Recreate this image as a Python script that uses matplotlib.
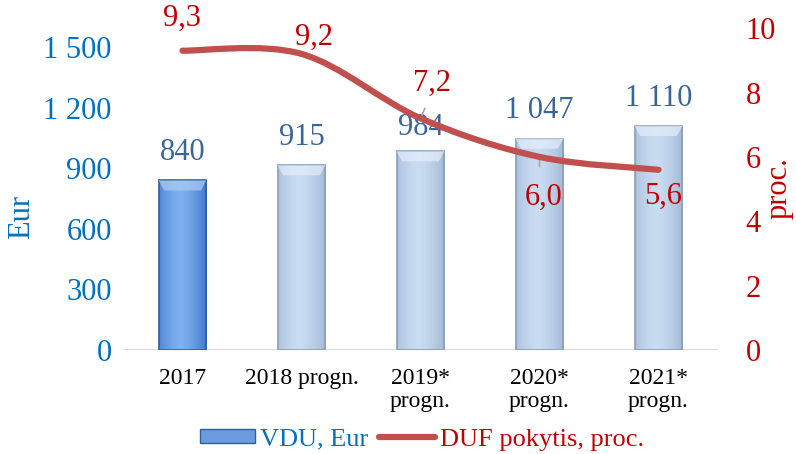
import matplotlib
matplotlib.use("Agg")
import matplotlib.pyplot as plt
import numpy as np
from matplotlib.path import Path
from matplotlib.patches import PathPatch, Rectangle, Polygon, Patch
from matplotlib.lines import Line2D
from matplotlib.colors import to_rgb

# duomenys
kategorijos = ["2017", "2018 progn.", "2019*\nprogn.", "2020*\nprogn.", "2021*\nprogn."]
vdu = [840, 915, 984, 1047, 1110]
duf = [9.3, 9.2, 7.2, 6.0, 5.6]
vdu_txt = ["840", "915", "984", "1 047", "1 110"]
duf_txt = ["9,3", "9,2", "7,2", "6,0", "5,6"]
kairys_ticks = [0, 300, 600, 900, 1200, 1500]
kairys_lbl = ["0", "300", "600", "900", "1 200", "1 500"]
desinys_ticks = [0, 2, 4, 6, 8, 10]

plt.rcParams['font.family'] = ['Liberation Serif', 'DejaVu Serif']

MELYNA = "#0070C0"
RAUDONA = "#C00000"
LINIJA = "#C0504D"
ETIKETE = "#3A6598"

fig = plt.figure(figsize=(7.96, 4.54), dpi=100)
ax = fig.add_axes([0.1545, 0.229, 0.7475, 0.709])
ax2 = ax.twinx()

x = np.arange(len(vdu))
w = 0.4
ax.set_xlim(-0.5, len(vdu) - 0.5)
ax.set_ylim(0, 1594)
ax2.set_ylim(0, 10)

def gradientas(c_krastas, c_vidurys, n=64):
    a = np.array(to_rgb(c_krastas))
    b = np.array(to_rgb(c_vidurys))
    t = 1 - np.abs(np.linspace(-0.8, 1, n)) ** 1.5
    return (a[None, :] * (1 - t[:, None]) + b[None, :] * t[:, None])[None, :, :]

for i, v in enumerate(vdu):
    if i == 0:
        kr, vid, ed, bev = "#3F78C8", "#7FB0F0", "#2F5F98", "#A9CCF5"
    else:
        kr, vid, ed, bev = "#A3B9D6", "#C9DCF2", "#8A9DB8", "#E4EEFA"
    x0, x1 = i - w / 2, i + w / 2
    rect = Rectangle((x0, 0), w, v, facecolor="none", edgecolor=ed, lw=1.2, zorder=3)
    ax.add_patch(rect)
    im = ax.imshow(gradientas(kr, vid), extent=[x0, x1, 0, v], aspect="auto", zorder=2)
    im.set_clip_path(rect)
    # nuosklemba virsuje
    d = 0.045
    h = 50
    ax.add_patch(Polygon([(x0, v), (x1, v), (x1 - d, v - h), (x0 + d, v - h)],
                         closed=True, facecolor=bev, edgecolor="none", alpha=0.7, zorder=3))
    ax.annotate(vdu_txt[i], (i, v), xytext=(0, 17 if i == 2 else 20), textcoords="offset points",
                ha="center", va="center", fontsize=22, color=ETIKETE, zorder=6)

ax.axhline(0, color="#D9D9D9", lw=1.5, zorder=1)
ax.set_xticks(x)
ax.set_xticklabels(kategorijos, fontsize=17, color="black", linespacing=1.1)
ax.tick_params(axis="x", length=0, pad=13)
ax.set_yticks(kairys_ticks)
ax.set_yticklabels(kairys_lbl, fontsize=22, color=MELYNA)
ax.tick_params(axis="y", length=0, pad=8)
ax.set_ylabel("Eur", fontsize=22, color=MELYNA)
ax.yaxis.set_label_coords(-0.146, 0.413)
for s in ax.spines.values():
    s.set_visible(False)
for s in ax2.spines.values():
    s.set_visible(False)

ax2.set_yticks(desinys_ticks)
ax2.set_yticklabels([str(t) for t in desinys_ticks], fontsize=22, color=RAUDONA)
ax2.tick_params(axis="y", length=0, pad=20)
ax2.set_ylabel("proc.", fontsize=22, color=RAUDONA, va="center")
ax2.yaxis.set_label_coords(1.103, 0.503)

# glotni linija (Catmull-Rom per Bezier)
pts = np.column_stack([x, duf]).astype(float)
verts = [tuple(pts[0])]
codes = [Path.MOVETO]
for k in range(len(pts) - 1):
    p0 = pts[k - 1] if k > 0 else pts[k]
    p1, p2 = pts[k], pts[k + 1]
    p3 = pts[k + 2] if k + 2 < len(pts) else pts[k + 1]
    c1 = p1 + (p2 - p0) / 6
    c2 = p2 - (p3 - p1) / 6
    verts += [tuple(c1), tuple(c2), tuple(p2)]
    codes += [Path.CURVE4] * 3
ax2.add_patch(PathPatch(Path(verts, codes), facecolor="none", edgecolor=LINIJA,
                        lw=4.5, capstyle="round", zorder=5))

poslinkiai = [(0, 23), (9, 12), (8, 25), (3, -29), (3, -19)]
for i, (v, t) in enumerate(zip(duf, duf_txt)):
    ax2.annotate(t, (i, v), xytext=poslinkiai[i], textcoords="offset points",
                 ha="center", va="center", fontsize=22, color=RAUDONA, annotation_clip=False)
# vedamosios linijos
ax2.annotate("", (2, 7.2), xytext=(4, 9), textcoords="offset points",
             arrowprops=dict(arrowstyle="-", color="#A6A6A6", lw=1.2))
ax2.annotate("", (3, 6.0), xytext=(0, -9), textcoords="offset points",
             arrowprops=dict(arrowstyle="-", color="#A6A6A6", lw=1.2))

rankenos = [Patch(facecolor="#6B9BDC", edgecolor="#2F5F98"),
            Line2D([], [], color=LINIJA, lw=4.5, solid_capstyle="round")]
leg = fig.legend(rankenos, ["VDU, Eur", "DUF pokytis, proc."], loc="lower center",
                 bbox_to_anchor=(0.53, -0.045), ncol=2, frameon=False, fontsize=19,
                 handlelength=2.1, handleheight=0.45, handletextpad=0.2, columnspacing=0.4)
for txt, c in zip(leg.get_texts(), [MELYNA, RAUDONA]):
    txt.set_color(c)

fig.savefig("out.png", dpi=100)
